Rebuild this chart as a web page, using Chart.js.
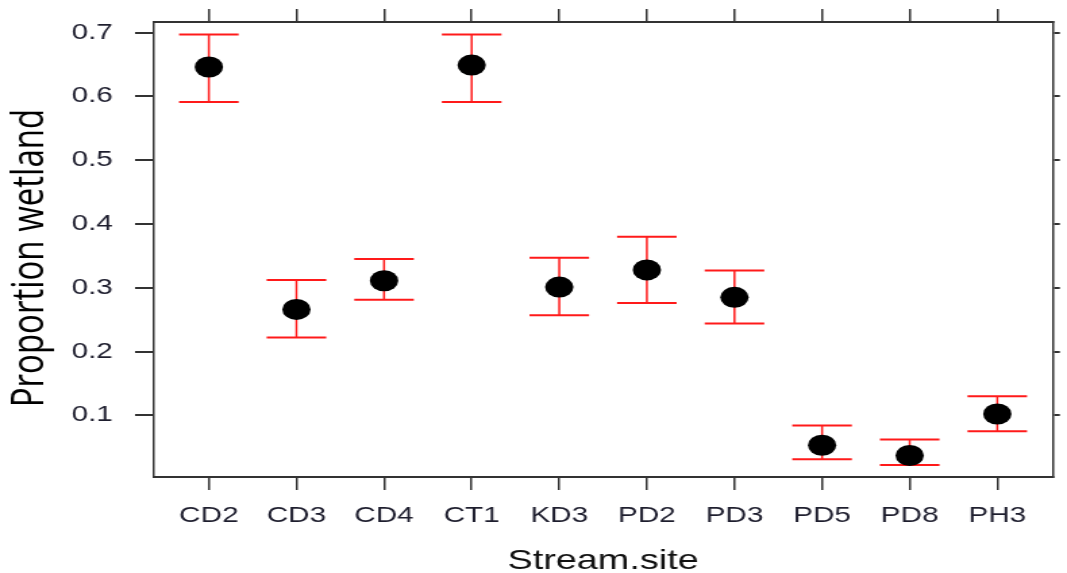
<!DOCTYPE html>
<html>
<head>
<meta charset="utf-8">
<script src="https://cdn.jsdelivr.net/npm/chart.js@4/dist/chart.umd.min.js"></script>
<style>
    html, body { margin: 0; padding: 0; background: #ffffff; }
</style>
</head>
<body>
<!-- the original plot is stretched sideways, so the canvas is drawn narrow and widened by its style -->
<canvas id="wetlandChart" width="790" height="573" style="width:1067px;height:573px;display:block"></canvas>
<script>
const sites = ['CD2', 'CD3', 'CD4', 'CT1', 'KD3', 'PD2', 'PD3', 'PD5', 'PD8', 'PH3'];
const proportion = [0.646, 0.266, 0.311, 0.649, 0.301, 0.328, 0.285, 0.053, 0.037, 0.102];
const lowerBound = [0.591, 0.222, 0.281, 0.591, 0.257, 0.276, 0.244, 0.031, 0.022, 0.075];
const upperBound = [0.697, 0.312, 0.345, 0.697, 0.347, 0.380, 0.327, 0.084, 0.062, 0.130];
const yTicks = [0.1, 0.2, 0.3, 0.4, 0.5, 0.6, 0.7];
const xTicks = sites.map((_, i) => i + 1);

const axisColor = '#333333';
const labelColor = '#1e1e2e';

// red error bars drawn under the points, placed with the chart's own scales
const errorBars = {
    id: 'errorBars',
    beforeDatasetsDraw(chart) {
        const { ctx, scales: { x, y } } = chart;
        const capHalf = (x.getPixelForValue(1) - x.getPixelForValue(0)) * 0.34;
        ctx.save();
        ctx.strokeStyle = '#ff1a1a';
        sites.forEach((_, i) => {
            const px = x.getPixelForValue(i + 1);
            const top = y.getPixelForValue(upperBound[i]);
            const bottom = y.getPixelForValue(lowerBound[i]);
            ctx.lineWidth = 1.5;
            ctx.beginPath();
            ctx.moveTo(px, top);
            ctx.lineTo(px, bottom);
            ctx.stroke();
            ctx.lineWidth = 2;
            ctx.beginPath();
            ctx.moveTo(px - capHalf, top);
            ctx.lineTo(px + capHalf, top);
            ctx.moveTo(px - capHalf, bottom);
            ctx.lineTo(px + capHalf, bottom);
            ctx.stroke();
        });
        ctx.restore();
    }
};

const xRange = { min: 0.366, max: 10.634 };
const yRange = { min: 0.0033, max: 0.7166 };

function setTicks(values) {
    return function (scale) {
        scale.ticks = values.map(v => ({ value: v }));
    };
}

// fixed box sizes so the plot frame lands where the original has it
function fixSize(prop, size) {
    return function (scale) {
        scale[prop] = size;
        scale.paddingTop = 0;
        scale.paddingBottom = 0;
        scale.paddingLeft = 0;
        scale.paddingRight = 0;
    };
}

const ctx = document.getElementById('wetlandChart');

new Chart(ctx, {
    type: 'scatter',
    data: {
        datasets: [{
            data: proportion.map((v, i) => ({ x: i + 1, y: v })),
            backgroundColor: '#000000',
            borderColor: '#000000',
            pointRadius: 10.5,
            pointHoverRadius: 10.5,
            borderWidth: 0
        }]
    },
    options: {
        responsive: false,
        animation: false,
        layout: { padding: 0 },
        plugins: {
            legend: { display: false },
            tooltip: { enabled: false }
        },
        scales: {
            x: {
                type: 'linear',
                position: 'bottom',
                min: xRange.min,
                max: xRange.max,
                afterBuildTicks: setTicks(xTicks),
                afterFit: fixSize('height', 96),
                grid: { drawOnChartArea: false, drawTicks: true, tickLength: 13, color: axisColor, lineWidth: 1.5 },
                border: { display: true, color: axisColor, width: 2 },
                ticks: {
                    padding: 12.5,
                    maxRotation: 0,
                    autoSkip: false,
                    color: labelColor,
                    font: { family: "'Liberation Sans', Arial, sans-serif", size: 22 },
                    callback: value => sites[value - 1]
                },
                title: {
                    display: true,
                    text: 'Stream.site',
                    color: '#111111',
                    font: { family: "'Liberation Sans', Arial, sans-serif", size: 28, lineHeight: 1 },
                    padding: { top: 0, bottom: -2 }
                }
            },
            x2: {
                type: 'linear',
                position: 'top',
                min: xRange.min,
                max: xRange.max,
                afterBuildTicks: setTicks(xTicks),
                afterFit: fixSize('height', 22),
                grid: { drawOnChartArea: false, drawTicks: true, tickLength: 13, color: axisColor, lineWidth: 1.5 },
                border: { display: true, color: axisColor, width: 2 },
                ticks: { display: false }
            },
            y: {
                type: 'linear',
                position: 'left',
                min: yRange.min,
                max: yRange.max,
                afterBuildTicks: setTicks(yTicks),
                afterFit: fixSize('width', 113.5),
                grid: { drawOnChartArea: false, drawTicks: true, tickLength: 13.5, color: axisColor, lineWidth: 2 },
                border: { display: true, color: axisColor, width: 1.5 },
                ticks: {
                    padding: 16.5,
                    color: labelColor,
                    font: { family: "'Liberation Sans', Arial, sans-serif", size: 22 },
                    callback: value => value.toFixed(1)
                },
                title: {
                    display: true,
                    // trailing spaces nudge the rotated title a little lower, as in the original
                    text: 'Proportion wetland  ',
                    color: '#000000',
                    font: { family: "'Open Sans', sans-serif", size: 33, lineHeight: 1.2 },
                    padding: { top: 2.5, bottom: 0 }
                }
            },
            y2: {
                type: 'linear',
                position: 'right',
                min: yRange.min,
                max: yRange.max,
                afterBuildTicks: setTicks(yTicks),
                afterFit: fixSize('width', 5.2),
                grid: { drawOnChartArea: false, drawTicks: true, tickLength: 5.2, color: axisColor, lineWidth: 2 },
                border: { display: true, color: axisColor, width: 1.5 },
                ticks: { display: false }
            }
        }
    },
    plugins: [errorBars]
});
</script>
</body>
</html>
